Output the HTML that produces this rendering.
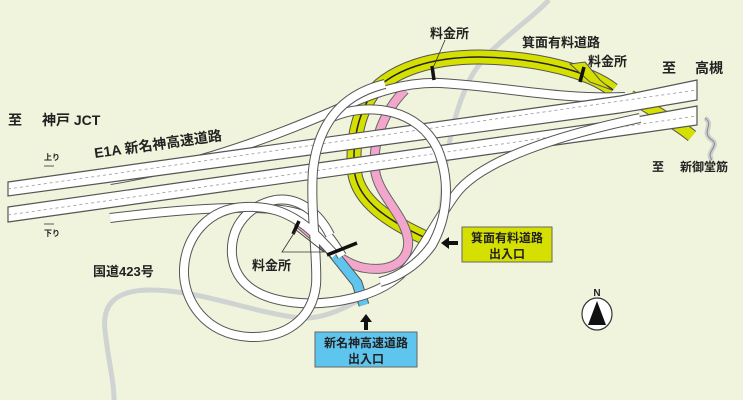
<!DOCTYPE html>
<html><head><meta charset="utf-8"><style>
html,body{margin:0;padding:0;background:#f1f4dc;}
svg{display:block}
text{font-family:"Liberation Sans","Noto Sans CJK JP",sans-serif;font-weight:bold;fill:#222}
</style></head><body>
<svg width="743" height="400" viewBox="0 0 743 400" xmlns="http://www.w3.org/2000/svg">
<rect width="743" height="400" fill="#f1f4dc"/>
<path d="M549,0 C520,30 480,50 465,90 C452,120 445,160 442,200 C438,240 420,265 393,280 C360,300 330,320 300,318 C250,312 200,290 150,290 C115,290 102,305 105,330 C108,360 114,380 114,400" fill="none" stroke="#cfd3d2" stroke-width="5"/>
<path d="M705,118 C715,125 700,132 712,140 C720,146 705,152 712,160" fill="none" stroke="#ccd0cf" stroke-width="5"/>
<path d="M705,118 C715,125 700,132 712,140 C720,146 705,152 712,160" fill="none" stroke="#888" stroke-width="1"/>

<defs>
<path id="pA" d="M110,180 C200,166 290,130 340,108 C375,92 405,82 440,83 C500,86 560,100 625,97"/>
<path id="pB" d="M385,84 C340,95 318,125 313,170 C310,210 318,260 316,285 C312,320 285,338 250,337 C205,335 183,300 184,270 C185,235 210,208 245,207 C270,206 285,212 300,222 C315,232 325,245 335,255"/>
<path id="pC" d="M640,118 C560,135 480,160 455,195 C430,230 420,255 400,275 C375,298 330,305 300,303 C260,300 235,285 232,255 C230,225 250,205 275,200 C300,196 320,215 330,235"/>
<path id="pD" d="M330,118 C370,100 420,110 438,150 C452,185 446,220 432,245 C418,265 398,277 380,282"/>
<path id="pF" d="M110,218 C200,207 270,204 300,214 C322,224 332,240 342,256"/>
</defs>

<g fill="none">
<path d="M613,90 C590,72 540,58 480,57 C430,57 395,70 375,90 C355,115 352,150 355,175 C360,200 385,220 430,240" stroke="#555" stroke-width="15"/>
<path d="M613,90 C590,72 540,58 480,57 C430,57 395,70 375,90 C355,115 352,150 355,175 C360,200 385,220 430,240" stroke="#d5e000" stroke-width="13"/>
<path d="M613,90 C590,72 540,58 480,57 C430,57 395,70 375,90 C355,115 352,150 355,175 C360,200 385,220 430,240" stroke="#222" stroke-width="1.5"/>
<path d="M630,96 C655,112 675,122 692,136" stroke="#555" stroke-width="13"/>
<path d="M630,96 C655,112 675,122 692,136" stroke="#d5e000" stroke-width="11"/>
</g>
<path d="M570,64 L585,62 L600,80 L612,90 L590,82 Z" fill="#d5e000" stroke="#555" stroke-width="1"/>
<g fill="none">
<path d="M405,90 C385,110 372,140 375,170 C378,195 405,215 408,240 C410,262 390,272 365,268 C340,264 320,240 297,222" stroke="#666" stroke-width="10"/>
<path d="M405,90 C385,110 372,140 375,170 C378,195 405,215 408,240 C410,262 390,272 365,268 C340,264 320,240 297,222" stroke="#f2a6cc" stroke-width="8"/>
<path d="M333,253 L357,283 L364,305" stroke="#555" stroke-width="11"/>
<path d="M333,253 L357,283 L364,305" stroke="#5ec6ee" stroke-width="9"/>
</g>

<g fill="none">
<use href="#pA" stroke="#555" stroke-width="10"/><use href="#pA" stroke="#fff" stroke-width="8"/>
<use href="#pF" stroke="#555" stroke-width="10"/><use href="#pF" stroke="#fff" stroke-width="8"/>
</g>

<polygon points="8,182 620,96 697,80 697,100 620,113 8,196" fill="#fff" stroke="#555" stroke-width="1.2"/>
<polygon points="8,207 620,120 697,106 697,125 620,136 8,222" fill="#fff" stroke="#555" stroke-width="1.2"/>
<path d="M8,189 L697,90 M8,215 L697,116" stroke="#999" stroke-width="0.8" stroke-dasharray="3,3"/>

<g fill="none">
<use href="#pC" stroke="#555" stroke-width="10"/><use href="#pC" stroke="#fff" stroke-width="8"/>
<use href="#pD" stroke="#555" stroke-width="10"/><use href="#pD" stroke="#fff" stroke-width="8"/>
<use href="#pB" stroke="#555" stroke-width="10"/><use href="#pB" stroke="#fff" stroke-width="8"/>
</g>

<g stroke="#111" stroke-width="3.5">
<line x1="432" y1="66" x2="434" y2="80"/>
<line x1="584" y1="67" x2="580" y2="82"/>
<line x1="299" y1="221" x2="293" y2="234"/>
<line x1="327" y1="255" x2="357" y2="243"/>
</g>
<path d="M445,40 L433,68" stroke="#333" stroke-width="0.8"/>
<polygon points="282,252 296,230 324,252" fill="none" stroke="#333" stroke-width="0.8"/>

<text x="430" y="38" font-size="13">料金所</text>
<text x="522" y="47" font-size="13">箕面有料道路</text>
<text x="588" y="66" font-size="13">料金所</text>
<text x="662" y="73" font-size="14">至</text>
<text x="695" y="73" font-size="14">高槻</text>
<text x="8" y="125" font-size="14">至</text>
<text x="42" y="125" font-size="14">神戸 JCT</text>
<text x="95" y="158" font-size="14" transform="rotate(-8 95 158)">E1A 新名神高速道路</text>
<text x="44" y="160" font-size="8" font-weight="normal">上り</text>
<path d="M44,166 L54,166" stroke="#333" stroke-width="0.8"/>
<text x="44" y="236" font-size="8" font-weight="normal">下り</text>
<path d="M44,224 L54,224" stroke="#333" stroke-width="0.8"/>
<text x="652" y="171" font-size="12">至</text>
<text x="680" y="171" font-size="12">新御堂筋</text>
<text x="93" y="276" font-size="13">国道423号</text>
<text x="252" y="270" font-size="13">料金所</text>

<rect x="462" y="227" width="90" height="35" fill="#d5e000" stroke="#666"/>
<text x="507" y="242" font-size="12" text-anchor="middle">箕面有料道路</text>
<text x="507" y="258" font-size="12" text-anchor="middle">出入口</text>
<path d="M458,243 L448,243" stroke="#111" stroke-width="4"/>
<polygon points="441,243 449,237 449,249" fill="#111"/>

<rect x="315" y="332" width="102" height="35" fill="#5ec6ee" stroke="#666"/>
<text x="366" y="347" font-size="12" text-anchor="middle">新名神高速道路</text>
<text x="366" y="363" font-size="12" text-anchor="middle">出入口</text>
<path d="M366,330 L366,321" stroke="#111" stroke-width="4"/>
<polygon points="366,314 360,322 372,322" fill="#111"/>

<text x="597" y="296" font-size="10" font-weight="normal" text-anchor="middle">N</text>
<ellipse cx="597" cy="314" rx="15" ry="16" fill="#fff" stroke="#333" stroke-width="1.2"/>
<polygon points="597,301 588,325 606,325" fill="#111"/>
</svg>
</body></html>
